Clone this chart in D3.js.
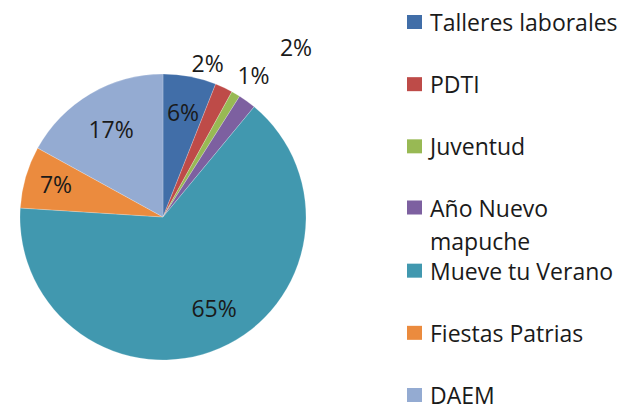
<!DOCTYPE html>
<html>
<head>
  <meta charset="utf-8">
  <style>
	body { margin: 0; background: #fff; }
	text { font-family: "Open Sans", "Noto Sans", sans-serif; fill: #1a1a1a; }
  </style>
</head>
<body>
<div id="chart"></div>
<script src="https://d3js.org/d3.v7.min.js"></script>
<script>
	// data
	const categories = ["Talleres laborales", "PDTI", "Juventud", "Año Nuevo mapuche", "Mueve tu Verano", "Fiestas Patrias", "DAEM"];
	const shares = [6, 2, 1, 2, 65, 7, 17];
	const colors = ["#416ea8", "#be4b48", "#98b954", "#7d60a0", "#4198af", "#eb8b3e", "#94abd2"];
	// legend lines (Año Nuevo wraps)
	const legendLines = [["Talleres laborales"], ["PDTI"], ["Juventud"], ["Año Nuevo", "mapuche"], ["Mueve tu Verano"], ["Fiestas Patrias"], ["DAEM"]];

	const width = 630, height = 411;
	const cx = 163, cy = 217, radius = 143;

	const svg = d3.select('#chart').append('svg')
		.attr('width', width)
		.attr('height', height);

	const pie = d3.pie().sort(null).value(d => d)(shares);
	const arc = d3.arc().innerRadius(0).outerRadius(radius);

	const g = svg.append('g').attr('transform', `translate(${cx},${cy})`);

	g.selectAll('path')
		.data(pie)
		.enter()
		.append('path')
		.attr('d', arc)
		.attr('fill', (d, i) => colors[i])
		.attr('stroke', 'rgba(255,255,255,0.35)')
		.attr('stroke-width', 0.6);

	// small slices get labels outside, the rest inside
	const labelR = [107, 160, 168, 216, 104, 112, 102];
	const labelShift = [0, -9, 2, 2, -6, 1, 0]; // degrees
	g.selectAll('text.lbl')
		.data(pie)
		.enter()
		.append('text')
		.attr('class', 'lbl')
		.attr('text-anchor', 'middle')
		.attr('dominant-baseline', 'central')
		.style('font-size', '23px')
		.attr('x', (d, i) => {
			const a = (d.startAngle + d.endAngle) / 2 + labelShift[i] * Math.PI / 180;
			return Math.sin(a) * labelR[i];
		})
		.attr('y', (d, i) => {
			const a = (d.startAngle + d.endAngle) / 2 + labelShift[i] * Math.PI / 180;
			return -Math.cos(a) * labelR[i];
		})
		.text(d => d.data + '%');

	// legend
	const rowY = d3.scalePoint().domain(d3.range(categories.length)).range([22, 395]);
	const legend = svg.append('g');
	const item = legend.selectAll('g')
		.data(categories)
		.enter()
		.append('g')
		.attr('transform', (d, i) => {
			// the wrapped item sits higher so its second line fits
			const y = i === 3 ? rowY(i) - 1 : rowY(i);
			return `translate(407,${y})`;
		});

	item.append('rect')
		.attr('x', 0)
		.attr('y', -7)
		.attr('width', 15)
		.attr('height', 14)
		.attr('fill', (d, i) => colors[i]);

	item.append('text')
		.attr('x', 23)
		.attr('y', 0)
		.attr('dominant-baseline', 'central')
		.style('font-size', '23px')
		.selectAll('tspan')
		.data((d, i) => legendLines[i])
		.enter()
		.append('tspan')
		.attr('x', 23)
		.attr('dy', (d, j) => j === 0 ? 0 : 33)
		.text(d => d);
</script>
</body>
</html>
